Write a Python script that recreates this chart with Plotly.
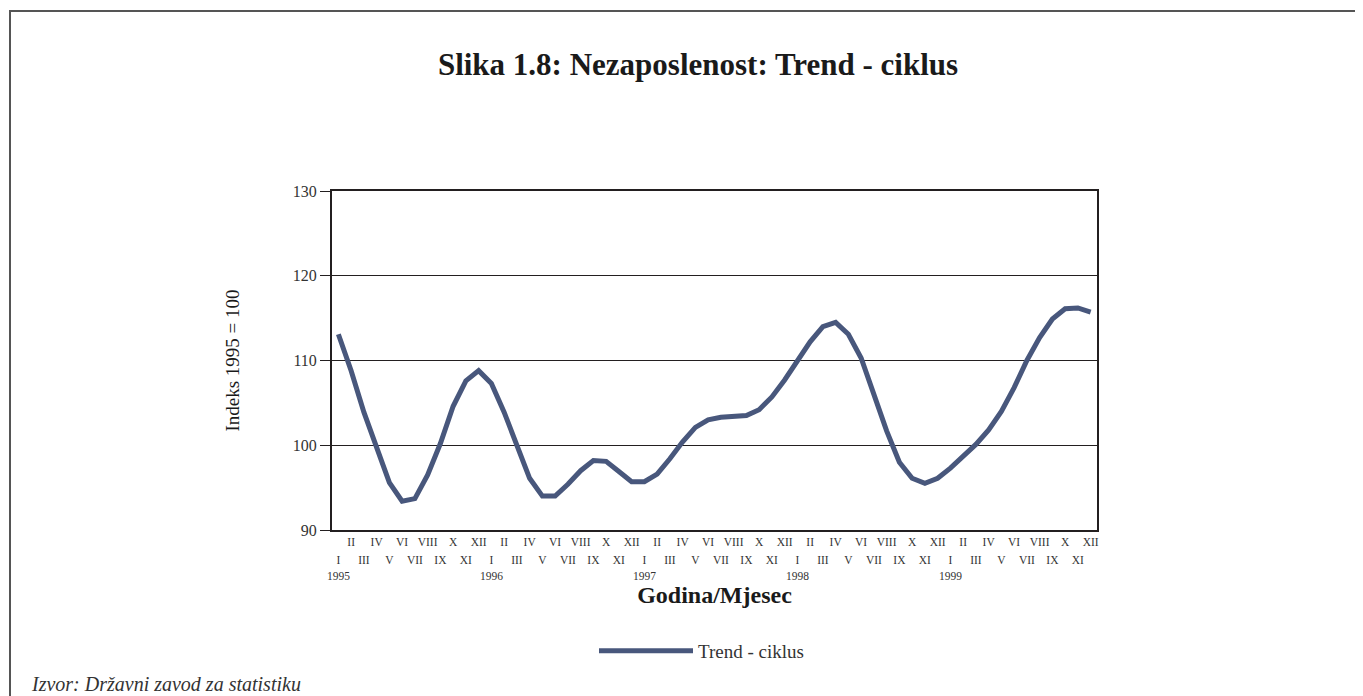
import plotly.graph_objects as go

# ---- data ----
months = ["I", "II", "III", "IV", "V", "VI", "VII", "VIII", "IX", "X", "XI", "XII"]
years = ["1995", "1996", "1997", "1998", "1999"]
trend_ciklus = [
    113.1, 108.8, 103.9, 99.6, 95.6, 93.4, 93.7, 96.5, 100.2, 104.6, 107.6, 108.8,
    107.3, 103.9, 100.0, 96.1, 94.0, 94.0, 95.4, 97.0, 98.2, 98.1, 96.9, 95.7,
    95.7, 96.6, 98.4, 100.4, 102.1, 103.0, 103.3, 103.4, 103.5, 104.2, 105.7, 107.7,
    110.0, 112.2, 114.0, 114.5, 113.1, 110.3, 106.0, 101.7, 98.0, 96.1, 95.5, 96.1,
    97.3, 98.7, 100.1, 101.8, 104.0, 106.8, 110.0, 112.7, 114.9, 116.1, 116.2, 115.7,
]
series_name = "Trend - ciklus"

# ---- derived ----
n = len(trend_ciklus)
xs = list(range(n))
month_lbl = [months[i % 12] for i in xs]
even_vals = [i for i in xs if i % 2 == 1]
odd_vals = [i for i in xs if i % 2 == 0]
year_vals = [i for i in xs if i % 12 == 0]

W, H = 1363, 696
OFF = 8  # page body margin: figure content is drawn shifted by this amount
L, R, T, B = 332 - OFF, 1097 - OFF, 191 - OFF, 530 - OFF
pw, ph = R - L, B - T

def px(x):
    return (x - OFF - L) / pw

def py(y):
    return (B - (y - OFF)) / ph

FONT = "Liberation Serif, Times New Roman, serif"
DARK = "#231f20"
LINE = "#48577c"

fig = go.Figure()
fig.add_trace(go.Scatter(x=xs, y=trend_ciklus, mode="lines", name=series_name,
                         line=dict(color=LINE, width=5), xaxis="x", yaxis="y"))
for ax in ("x2", "x3"):
    fig.add_trace(go.Scatter(x=xs, y=trend_ciklus, mode="lines", showlegend=False,
                             line=dict(color="rgba(0,0,0,0)", width=0), hoverinfo="skip",
                             xaxis=ax, yaxis="y"))

common_x = dict(range=[-0.5, n - 0.5], tickmode="array", ticks="", showgrid=False,
                zeroline=False, tickangle=0, tickfont=dict(family=FONT, size=11.5, color="#333"))

fig.update_layout(
    width=W, height=H,
    margin=dict(l=L, r=W - R, t=T, b=H - B),
    paper_bgcolor="white", plot_bgcolor="white",
    font=dict(family=FONT, color="#222"),
    title=dict(text="<b>Slika 1.8: Nezaposlenost: Trend - ciklus</b>", x=(698 - OFF) / W,
               xanchor="center", y=1 - (64 - OFF) / H, yanchor="middle",
               font=dict(family=FONT, size=31, color="#1a1a1a")),
    xaxis=dict(**common_x, tickvals=even_vals, ticktext=[month_lbl[i] for i in even_vals],
               showline=True, linewidth=2, linecolor=DARK, mirror=True, ticklabelstandoff=0,
               anchor="y"),
    xaxis2=dict(**common_x, tickvals=odd_vals, ticktext=[month_lbl[i] for i in odd_vals],
                overlaying="x", matches="x", anchor="y", side="bottom", showline=False,
                ticklabelstandoff=21),
    xaxis3=dict(**common_x, tickvals=year_vals, ticktext=years,
                overlaying="x", matches="x", anchor="y", side="bottom", showline=False,
                ticklabelstandoff=37,
                title=dict(text="<b>Godina/Mjesec</b>", standoff=5,
                           font=dict(family=FONT, size=24, color="#1a1a1a"))),
    yaxis=dict(range=[90, 130], dtick=10, tick0=90, ticks="outside", ticklen=10,
               tickcolor=DARK, tickwidth=1, showline=True, linewidth=2, linecolor=DARK,
               mirror=True, showgrid=True, gridcolor=DARK, gridwidth=1, zeroline=False,
               tickfont=dict(family=FONT, size=16, color="#333"),
               title=dict(text="Indeks 1995 = 100", standoff=48,
                          font=dict(family=FONT, size=19, color="#1a1a1a"))),
    legend=dict(orientation="h", x=px(594), xanchor="left", y=py(651), yanchor="middle",
                itemwidth=94, font=dict(family=FONT, size=19, color="#333"),
                bgcolor="rgba(0,0,0,0)"),
    showlegend=True,
)

# outer frame (runs off the right and bottom edges as in the reference)
fig.add_shape(type="rect", xref="paper", yref="paper",
              x0=px(10), x1=px(W + 40), y0=py(H + 40), y1=py(11),
              line=dict(color="#555", width=2), fillcolor="rgba(0,0,0,0)", layer="below")

fig.add_annotation(text="<i>Izvor: Državni zavod za statistiku</i>", xref="paper", yref="paper",
                   x=px(29), xanchor="left", y=py(684), yanchor="middle", showarrow=False,
                   font=dict(family=FONT, size=20, color="#333"))

fig.write_html("out.html")
